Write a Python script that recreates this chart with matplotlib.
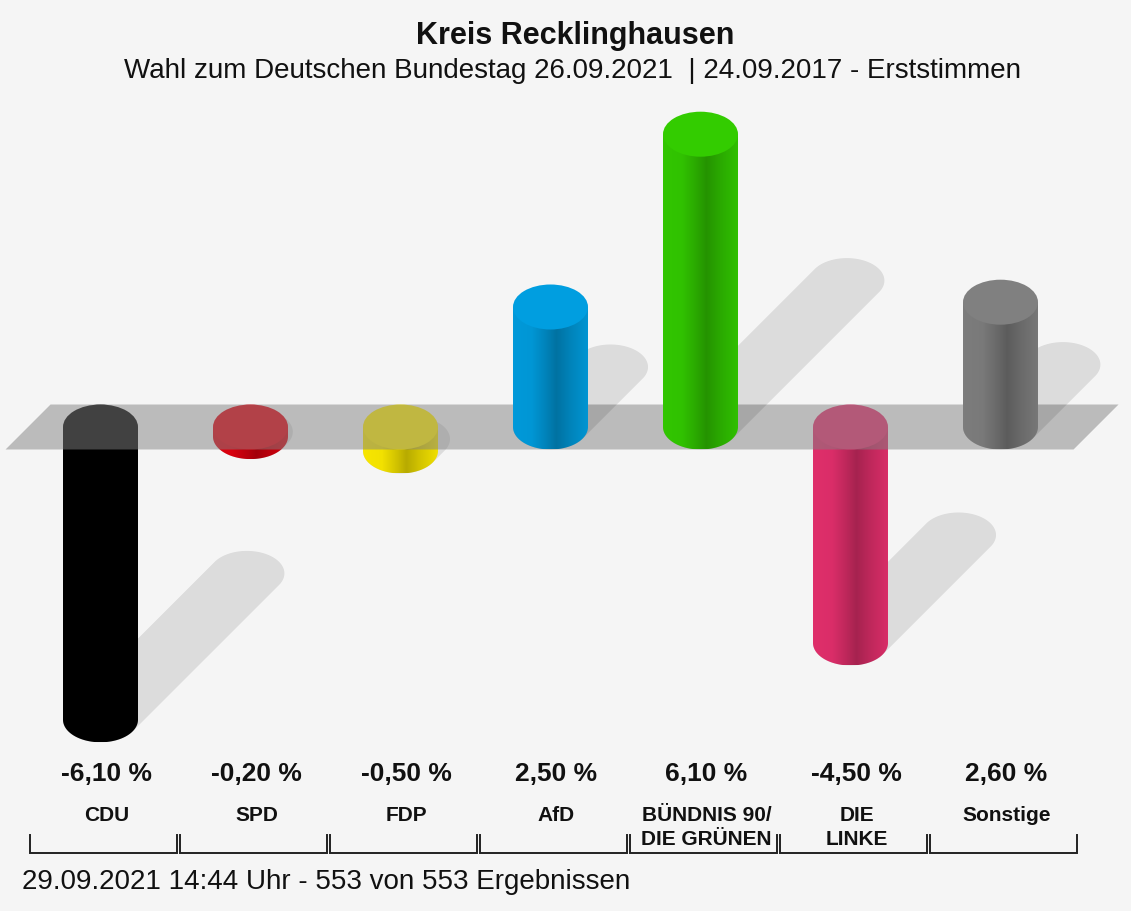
import numpy as np
import matplotlib.pyplot as plt
from matplotlib.patches import Ellipse, Polygon, PathPatch
from matplotlib.path import Path
from matplotlib.colors import to_rgb

plt.rcParams['font.family'] = ['Liberation Sans', 'DejaVu Sans']

# data
parties = ['CDU', 'SPD', 'FDP', 'AfD', 'BÜNDNIS 90/\nDIE GRÜNEN', 'DIE\nLINKE', 'Sonstige']
diffs = [-6.10, -0.20, -0.50, 2.50, 6.10, -4.50, 2.60]
colors = ['#000000', '#e3000f', '#ffed00', '#009ee0', '#33cc00', '#e6306e', '#808080']

title = 'Kreis Recklinghausen'
subtitle = 'Wahl zum Deutschen Bundestag 26.09.2021  | 24.09.2017 - Erststimmen'
footer = '29.09.2021 14:44 Uhr - 553 von 553 Ergebnissen'

# layout (pixels of the 1131x911 picture)
W, H = 1131, 911
ZERO_PX = 427
PX_PCT = 48
PX_CAT = 150
X0_PX = 100.5
BG = '#f5f5f5'

BAR_W = 75 / PX_CAT
CAP_H = 45 / PX_PCT
a, b = BAR_W / 2, CAP_H / 2


def fy(py):
	return 1 - py / H


def pct(py):
	return (ZERO_PX - py) / PX_PCT


def shadow_poly(x, y, dx, dy):
	# hull of two equal ellipses, the second shifted by (dx, dy)
	t = np.linspace(0, 2 * np.pi, 200)
	ex, ey = a * np.cos(t), b * np.sin(t)
	side = dx * np.cos(t) / a + dy * np.sin(t) / b
	px = np.where(side > 0, x + dx + ex, x + ex)
	py = np.where(side > 0, y + dy + ey, y + ey)
	return np.column_stack([px, py])


def shade(c):
	r = np.array(to_rgb(c))
	tt = [0.0, 0.25, 0.45, 0.58, 0.75, 0.92, 1.0]
	ff = [0.97, 0.95, 0.82, 0.72, 0.82, 0.9, 0.94]
	f = np.interp(np.linspace(0, 1, 80), tt, ff)
	return np.clip(f[:, None] * r[None, :], 0, 1)[None, :, :]


fig = plt.figure(figsize=(W / 100, H / 100), dpi=100, facecolor=BG)
ax = fig.add_axes([0, 0, 1, 1])
ax.set_xlim(-X0_PX / PX_CAT, (W - X0_PX) / PX_CAT)
ax.set_ylim(pct(H), pct(0))
ax.set_facecolor(BG)
ax.axis('off')

n = len(diffs)


def draw_bar(i, v, z):
	c = colors[i]
	yt, yb = max(v, 0), min(v, 0)
	L = abs(v) * 0.5
	dx = L * PX_PCT / PX_CAT
	ax.add_patch(Polygon(shadow_poly(i, yb, dx, L), closed=True, facecolor='black',
						 alpha=0.1, edgecolor='none', zorder=z))
	t = np.linspace(np.pi, 2 * np.pi, 60)
	verts = [(i - a, yt)] + list(zip(i + a * np.cos(t), yb + b * np.sin(t))) + [(i + a, yt), (i - a, yt)]
	path = Path(verts, [Path.MOVETO] + [Path.LINETO] * (len(verts) - 2) + [Path.CLOSEPOLY])
	body = PathPatch(path, facecolor='none', edgecolor='none', transform=ax.transData)
	ax.add_patch(body)
	im = ax.imshow(shade(c), extent=[i - a, i + a, yb - b, yt], aspect='auto',
				   interpolation='bilinear', zorder=z + 1)
	im.set_clip_path(body)
	ax.add_patch(Ellipse((i, yt), BAR_W, CAP_H, facecolor=c, edgecolor='none', zorder=z + 2))


# negative bars sit behind the grey zero plane, positive ones in front
for i, v in enumerate(diffs):
	if v < 0:
		draw_bar(i, v, 2)

sk = 45 / PX_CAT
x_left, x_right = -0.633, n - 1 + 0.487
band = [(x_left, -b), (x_right, -b), (x_right + sk, b), (x_left + sk, b)]
ax.add_patch(Polygon(band, closed=True, facecolor='#828282', alpha=0.5, edgecolor='none', zorder=6))

for i, v in enumerate(diffs):
	if v >= 0:
		draw_bar(i, v, 8)

# value and party labels
for i, (p, v) in enumerate(zip(parties, diffs)):
	s = f'{v:.2f}'.replace('.', ',') + ' %'
	ax.text(i + 0.04, fy(774), s, transform=ax.get_xaxis_transform(), ha='center', va='center',
			fontsize=19, fontweight='bold', color='#111111')
	ax.text(i + 0.04, fy(806), p, transform=ax.get_xaxis_transform(), ha='center', va='top',
			fontsize=15, fontweight='bold', color='#111111', linespacing=1.32)
	# bracket below each party
	x1, x2 = i - 0.47, i + 0.51
	ax.plot([x1, x1, x2, x2], [pct(835), pct(853), pct(853), pct(835)], color='#222222',
			lw=1.4, solid_joinstyle='miter', zorder=10)

fig.text(575 / W, fy(36), title, ha='center', va='center', fontsize=22, fontweight='bold', color='#111111')
fig.text(572 / W, fy(71), subtitle, ha='center', va='center', fontsize=20, color='#111111')
fig.text(22 / W, fy(882), footer, ha='left', va='center', fontsize=20, color='#111111')

fig.savefig('out.png', dpi=100, facecolor=BG)
plt.close()
